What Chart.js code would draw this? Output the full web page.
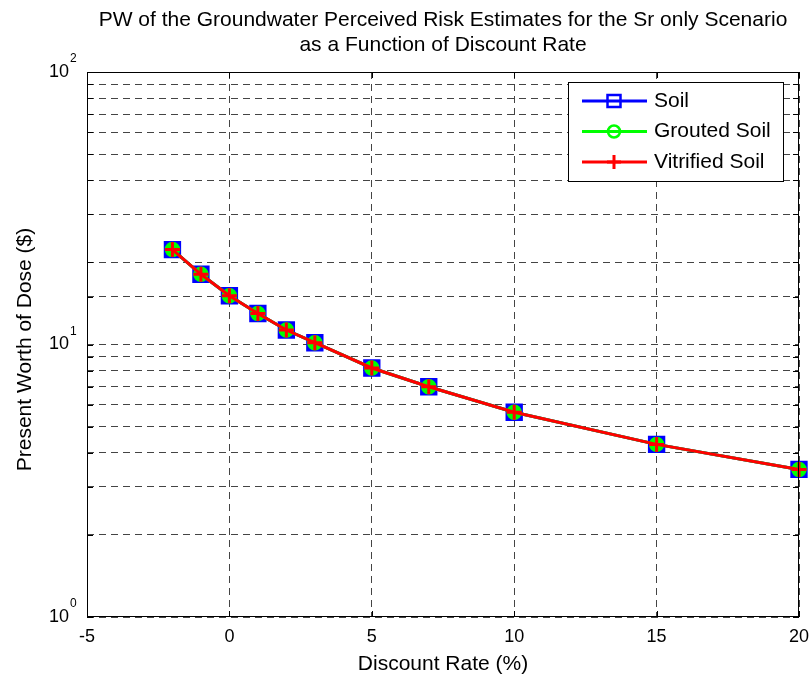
<!DOCTYPE html>
<html>
<head>
<meta charset="utf-8">
<script src="https://cdn.jsdelivr.net/npm/chart.js"></script>
<style>
  html, body { margin: 0; padding: 0; background: #fff; }
  canvas { display: block; }
</style>
</head>
<body>
<canvas id="pwChart" width="812" height="679"></canvas>
<script>
    // values
    const rates = [-2, -1, 0, 1, 2, 3, 5, 7, 10, 15, 20];
    const soil = [22.3, 18.1, 15.1, 13.0, 11.3, 10.15, 8.2, 7.0, 5.64, 4.30, 3.48];
    const groutedSoil = [22.3, 18.1, 15.1, 13.0, 11.3, 10.15, 8.2, 7.0, 5.64, 4.30, 3.48];
    const vitrifiedSoil = [22.3, 18.1, 15.1, 13.0, 11.3, 10.15, 8.2, 7.0, 5.64, 4.30, 3.48];

    const xTicks = [-5, 0, 5, 10, 15, 20];
    const yDecades = [1, 10, 100];
    const yExponents = ['0', '1', '2'];

    const titleLines = ['PW of the Groundwater Perceived Risk Estimates for the Sr only Scenario',
                        'as a Function of Discount Rate'];
    const xLabel = 'Discount Rate (%)';
    const yLabel = 'Present Worth of Dose ($)';

    const FONT = "'Liberation Sans', Arial, sans-serif";

    function pts(values) {
        return rates.map((r, i) => ({ x: r, y: values[i] }));
    }

    const series = [
        { label: 'Soil', color: '#0000ff', values: soil, style: 'rect', order: 3 },
        { label: 'Grouted Soil', color: '#00ff00', values: groutedSoil, style: 'circle', order: 2 },
        { label: 'Vitrified Soil', color: '#ff0000', values: vitrifiedSoil, style: 'cross', order: 1 }
    ];

    const datasets = series.map(s => ({
        label: s.label,
        data: pts(s.values),
        borderColor: s.color,
        borderWidth: 3,
        pointStyle: s.style,
        pointRadius: s.style === 'rect' ? 10.5 : (s.style === 'circle' ? 6.5 : 7.5),
        pointBorderWidth: s.style === 'cross' ? 3 : 2.5,
        pointBackgroundColor: s.color,
        pointBorderColor: s.color,
        tension: 0,
        fill: false,
        clip: false,
        order: s.order
    }));

    function drawMarker(ctx, style, color, x, y) {
        ctx.save();
        ctx.strokeStyle = color;
        ctx.lineWidth = 2.5;
        ctx.beginPath();
        if (style === 'rect') {
            ctx.rect(x - 6.5, y - 6, 13, 12);
        } else if (style === 'circle') {
            ctx.arc(x, y, 6, 0, Math.PI * 2);
        } else {
            ctx.lineWidth = 3;
            ctx.moveTo(x - 7, y); ctx.lineTo(x + 7, y);
            ctx.moveTo(x, y - 7); ctx.lineTo(x, y + 7);
        }
        ctx.stroke();
        ctx.restore();
    }

    const matlabFrame = {
        id: 'matlabFrame',
        afterDraw(chart) {
            const ctx = chart.ctx;
            const a = chart.chartArea;
            const xs = chart.scales.x, ys = chart.scales.y;
            ctx.save();

            // axes box
            ctx.strokeStyle = '#000';
            ctx.lineWidth = 1;
            ctx.strokeRect(a.left + 0.5, a.top + 0.5, a.right - a.left - 1, a.bottom - a.top - 1);

            // inward tick marks
            ctx.beginPath();
            ys.ticks.forEach(t => {
                const py = Math.round(ys.getPixelForValue(t.value)) + 0.5;
                ctx.moveTo(a.left, py); ctx.lineTo(a.left + 6, py);
                ctx.moveTo(a.right, py); ctx.lineTo(a.right - 6, py);
            });
            xTicks.forEach(v => {
                const px = Math.round(xs.getPixelForValue(v)) + 0.5;
                ctx.moveTo(px, a.bottom); ctx.lineTo(px, a.bottom - 6);
                ctx.moveTo(px, a.top); ctx.lineTo(px, a.top + 6);
            });
            ctx.stroke();

            ctx.fillStyle = '#000';
            // x tick labels
            ctx.font = '18px ' + FONT;
            ctx.textAlign = 'center';
            ctx.textBaseline = 'middle';
            xTicks.forEach(v => {
                ctx.fillText(String(v), xs.getPixelForValue(v), a.bottom + 20);
            });

            // y tick labels 10^n
            yDecades.forEach((v, i) => {
                const py = ys.getPixelForValue(v);
                ctx.font = '18px ' + FONT;
                ctx.textAlign = 'right';
                ctx.fillText('10', a.left - 18, py);
                ctx.font = '12px ' + FONT;
                ctx.textAlign = 'left';
                ctx.fillText(yExponents[i], a.left - 17, py - 13);
            });

            // title
            ctx.font = '21px ' + FONT;
            ctx.textAlign = 'center';
            ctx.textBaseline = 'alphabetic';
            const cx = (a.left + a.right) / 2;
            ctx.fillText(titleLines[0], cx, 26);
            ctx.fillText(titleLines[1], cx, 51);

            // x label
            ctx.fillText(xLabel, cx, 670);

            // y label
            ctx.save();
            ctx.translate(25, (a.top + a.bottom) / 2 + 5);
            ctx.rotate(-Math.PI / 2);
            ctx.textBaseline = 'middle';
            ctx.fillText(yLabel, 0, 0);
            ctx.restore();

            // legend
            const lx = 568, ly = 82, lw = 215, lh = 99;
            ctx.fillStyle = '#fff';
            ctx.fillRect(lx, ly, lw, lh);
            ctx.strokeStyle = '#000';
            ctx.lineWidth = 1;
            ctx.strokeRect(lx + 0.5, ly + 0.5, lw, lh);
            series.forEach((s, i) => {
                const ry = 101 + i * 30.5;
                ctx.strokeStyle = s.color;
                ctx.lineWidth = 3;
                ctx.beginPath();
                ctx.moveTo(582, ry); ctx.lineTo(647, ry);
                ctx.stroke();
                drawMarker(ctx, s.style, s.color, 614, ry);
                ctx.fillStyle = '#000';
                ctx.font = '21px ' + FONT;
                ctx.textAlign = 'left';
                ctx.textBaseline = 'middle';
                ctx.fillText(s.label, 654, ry);
            });
            ctx.restore();
        }
    };

    const ctx = document.getElementById('pwChart').getContext('2d');
    const pwChart = new Chart(ctx, {
        type: 'line',
        data: { datasets: datasets },
        options: {
            responsive: false,
            animation: false,
            layout: { padding: { left: 0, top: 72, right: 12, bottom: 0 } },
            plugins: { legend: { display: false }, title: { display: false }, tooltip: { enabled: false } },
            scales: {
                x: {
                    type: 'linear',
                    min: -5,
                    max: 20,
                    ticks: { display: false, stepSize: 5 },
                    grid: { color: '#444', lineWidth: 1, drawTicks: false },
                    border: { display: false, dash: [7, 5] },
                    afterFit(scale) { scale.height = 62; }
                },
                y: {
                    type: 'logarithmic',
                    min: 1,
                    max: 100,
                    ticks: { display: false },
                    grid: { color: '#444', lineWidth: 1, drawTicks: false },
                    border: { display: false, dash: [7, 5] },
                    afterFit(scale) { scale.width = 87; }
                }
            }
        },
        plugins: [matlabFrame]
    });
</script>
</body>
</html>
